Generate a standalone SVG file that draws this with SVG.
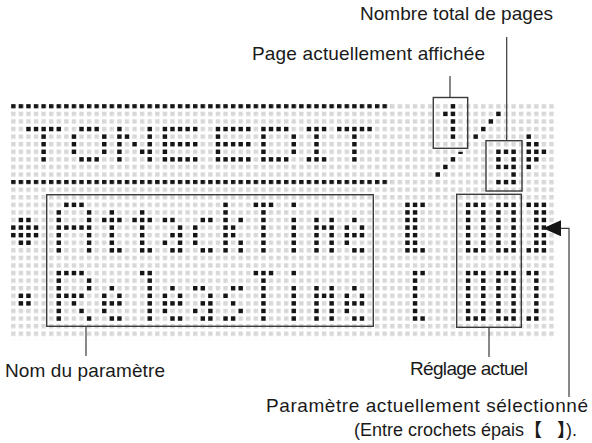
<svg xmlns="http://www.w3.org/2000/svg" xmlns:xlink="http://www.w3.org/1999/xlink" width="592" height="443" viewBox="0 0 592 443">
<style>
.lbl{font-family:"Liberation Sans","Noto Sans CJK JP",Arial,sans-serif;font-size:19px;fill:#1a1a1a}
.cjk{font-family:"Noto Sans CJK JP","Liberation Sans",sans-serif;font-weight:bold}
.box{fill:none;stroke:#3a3a3a;stroke-width:1.4}
.ldr{fill:none;stroke:#3a3a3a;stroke-width:1.2}
.k{fill:#151515}
</style>
<defs>
<pattern id="grid" x="11.1" y="104.1" width="7.58" height="7.58" patternUnits="userSpaceOnUse"><rect width="4.4" height="4.4" fill="#d8d8d8"/></pattern>
<pattern id="kgrid" x="11.1" y="104.1" width="7.58" height="7.58" patternUnits="userSpaceOnUse"><rect width="4.4" height="4.4" fill="#151515"/></pattern>
<marker id="ah" viewBox="0 0 18 16" refX="18" refY="8" markerWidth="18" markerHeight="16" orient="auto" markerUnits="userSpaceOnUse"><path d="M0,0 L18,8 L0,16 z" fill="#151515"/></marker>
<rect id="d" width="0.58" height="0.58"/>
<g id="gA"><use href="#d" x="1" y="0"/><use href="#d" x="2" y="0"/><use href="#d" x="3" y="0"/><use href="#d" x="0" y="1"/><use href="#d" x="4" y="1"/><use href="#d" x="0" y="2"/><use href="#d" x="4" y="2"/><use href="#d" x="0" y="3"/><use href="#d" x="1" y="3"/><use href="#d" x="2" y="3"/><use href="#d" x="3" y="3"/><use href="#d" x="4" y="3"/><use href="#d" x="0" y="4"/><use href="#d" x="4" y="4"/><use href="#d" x="0" y="5"/><use href="#d" x="4" y="5"/><use href="#d" x="0" y="6"/><use href="#d" x="4" y="6"/></g>
<g id="gt"><use href="#d" x="1" y="1"/><use href="#d" x="0" y="2"/><use href="#d" x="1" y="2"/><use href="#d" x="2" y="2"/><use href="#d" x="1" y="3"/><use href="#d" x="1" y="4"/><use href="#d" x="1" y="5"/><use href="#d" x="1" y="6"/><use href="#d" x="2" y="6"/></g>
<g id="ga"><use href="#d" x="0" y="2"/><use href="#d" x="1" y="2"/><use href="#d" x="2" y="3"/><use href="#d" x="1" y="4"/><use href="#d" x="2" y="4"/><use href="#d" x="0" y="5"/><use href="#d" x="2" y="5"/><use href="#d" x="1" y="6"/><use href="#d" x="2" y="6"/></g>
<g id="gc"><use href="#d" x="1" y="2"/><use href="#d" x="2" y="2"/><use href="#d" x="0" y="3"/><use href="#d" x="0" y="4"/><use href="#d" x="0" y="5"/><use href="#d" x="1" y="6"/><use href="#d" x="2" y="6"/></g>
<g id="gk"><use href="#d" x="0" y="0"/><use href="#d" x="0" y="1"/><use href="#d" x="0" y="2"/><use href="#d" x="0" y="3"/><use href="#d" x="0" y="4"/><use href="#d" x="0" y="5"/><use href="#d" x="0" y="6"/><use href="#d" x="2" y="2"/><use href="#d" x="1" y="3"/><use href="#d" x="1" y="4"/><use href="#d" x="2" y="5"/><use href="#d" x="2" y="6"/></g>
<g id="gT"><use href="#d" x="0" y="0"/><use href="#d" x="1" y="0"/><use href="#d" x="2" y="0"/><use href="#d" x="1" y="1"/><use href="#d" x="1" y="2"/><use href="#d" x="1" y="3"/><use href="#d" x="1" y="4"/><use href="#d" x="1" y="5"/><use href="#d" x="1" y="6"/></g>
<g id="gi"><use href="#d" x="0" y="0"/><use href="#d" x="0" y="2"/><use href="#d" x="0" y="3"/><use href="#d" x="0" y="4"/><use href="#d" x="0" y="5"/><use href="#d" x="0" y="6"/></g>
<g id="gm"><use href="#d" x="0" y="2"/><use href="#d" x="2" y="2"/><use href="#d" x="0" y="3"/><use href="#d" x="1" y="3"/><use href="#d" x="2" y="3"/><use href="#d" x="0" y="4"/><use href="#d" x="2" y="4"/><use href="#d" x="0" y="5"/><use href="#d" x="2" y="5"/><use href="#d" x="0" y="6"/><use href="#d" x="2" y="6"/></g>
<g id="ge"><use href="#d" x="1" y="2"/><use href="#d" x="0" y="3"/><use href="#d" x="2" y="3"/><use href="#d" x="0" y="4"/><use href="#d" x="1" y="4"/><use href="#d" x="2" y="4"/><use href="#d" x="0" y="5"/><use href="#d" x="1" y="6"/><use href="#d" x="2" y="6"/></g>
<g id="gR"><use href="#d" x="0" y="0"/><use href="#d" x="1" y="0"/><use href="#d" x="2" y="0"/><use href="#d" x="3" y="0"/><use href="#d" x="0" y="1"/><use href="#d" x="4" y="1"/><use href="#d" x="0" y="2"/><use href="#d" x="4" y="2"/><use href="#d" x="0" y="3"/><use href="#d" x="1" y="3"/><use href="#d" x="2" y="3"/><use href="#d" x="3" y="3"/><use href="#d" x="0" y="4"/><use href="#d" x="2" y="4"/><use href="#d" x="0" y="5"/><use href="#d" x="3" y="5"/><use href="#d" x="0" y="6"/><use href="#d" x="4" y="6"/></g>
<g id="gl"><use href="#d" x="0" y="0"/><use href="#d" x="1" y="0"/><use href="#d" x="1" y="1"/><use href="#d" x="1" y="2"/><use href="#d" x="1" y="3"/><use href="#d" x="1" y="4"/><use href="#d" x="1" y="5"/><use href="#d" x="1" y="6"/></g>
<g id="gs"><use href="#d" x="1" y="2"/><use href="#d" x="2" y="2"/><use href="#d" x="0" y="3"/><use href="#d" x="1" y="4"/><use href="#d" x="2" y="5"/><use href="#d" x="0" y="6"/><use href="#d" x="1" y="6"/></g>
<g id="g0"><use href="#d" x="0" y="0"/><use href="#d" x="1" y="0"/><use href="#d" x="2" y="0"/><use href="#d" x="0" y="1"/><use href="#d" x="2" y="1"/><use href="#d" x="0" y="2"/><use href="#d" x="2" y="2"/><use href="#d" x="0" y="3"/><use href="#d" x="2" y="3"/><use href="#d" x="0" y="4"/><use href="#d" x="2" y="4"/><use href="#d" x="0" y="5"/><use href="#d" x="2" y="5"/><use href="#d" x="0" y="6"/><use href="#d" x="1" y="6"/><use href="#d" x="2" y="6"/></g>
<g id="gLB"><use href="#d" x="0" y="0"/><use href="#d" x="1" y="0"/><use href="#d" x="2" y="0"/><use href="#d" x="0" y="1"/><use href="#d" x="1" y="1"/><use href="#d" x="0" y="2"/><use href="#d" x="1" y="2"/><use href="#d" x="0" y="3"/><use href="#d" x="1" y="3"/><use href="#d" x="0" y="4"/><use href="#d" x="1" y="4"/><use href="#d" x="0" y="5"/><use href="#d" x="1" y="5"/><use href="#d" x="0" y="6"/><use href="#d" x="1" y="6"/><use href="#d" x="2" y="6"/></g>
<g id="gRB"><use href="#d" x="0" y="0"/><use href="#d" x="1" y="0"/><use href="#d" x="2" y="0"/><use href="#d" x="1" y="1"/><use href="#d" x="2" y="1"/><use href="#d" x="1" y="2"/><use href="#d" x="2" y="2"/><use href="#d" x="1" y="3"/><use href="#d" x="2" y="3"/><use href="#d" x="1" y="4"/><use href="#d" x="2" y="4"/><use href="#d" x="1" y="5"/><use href="#d" x="2" y="5"/><use href="#d" x="0" y="6"/><use href="#d" x="1" y="6"/><use href="#d" x="2" y="6"/></g>
<g id="glb"><use href="#d" x="0" y="0"/><use href="#d" x="1" y="0"/><use href="#d" x="0" y="1"/><use href="#d" x="0" y="2"/><use href="#d" x="0" y="3"/><use href="#d" x="0" y="4"/><use href="#d" x="0" y="5"/><use href="#d" x="0" y="6"/><use href="#d" x="1" y="6"/></g>
<g id="grb"><use href="#d" x="0" y="0"/><use href="#d" x="1" y="0"/><use href="#d" x="1" y="1"/><use href="#d" x="1" y="2"/><use href="#d" x="1" y="3"/><use href="#d" x="1" y="4"/><use href="#d" x="1" y="5"/><use href="#d" x="0" y="6"/><use href="#d" x="1" y="6"/></g>
<g id="tT"><use href="#d" x="0" y="0"/><use href="#d" x="1" y="0"/><use href="#d" x="2" y="0"/><use href="#d" x="3" y="0"/><use href="#d" x="4" y="0"/><use href="#d" x="2" y="1"/><use href="#d" x="2" y="2"/><use href="#d" x="2" y="3"/><use href="#d" x="2" y="4"/></g>
<g id="tO"><use href="#d" x="1" y="0"/><use href="#d" x="2" y="0"/><use href="#d" x="3" y="0"/><use href="#d" x="0" y="1"/><use href="#d" x="4" y="1"/><use href="#d" x="0" y="2"/><use href="#d" x="4" y="2"/><use href="#d" x="0" y="3"/><use href="#d" x="4" y="3"/><use href="#d" x="1" y="4"/><use href="#d" x="2" y="4"/><use href="#d" x="3" y="4"/></g>
<g id="tN"><use href="#d" x="0" y="0"/><use href="#d" x="0" y="1"/><use href="#d" x="0" y="2"/><use href="#d" x="0" y="3"/><use href="#d" x="0" y="4"/><use href="#d" x="4" y="0"/><use href="#d" x="4" y="1"/><use href="#d" x="4" y="2"/><use href="#d" x="4" y="3"/><use href="#d" x="4" y="4"/><use href="#d" x="1" y="1"/><use href="#d" x="2" y="2"/><use href="#d" x="3" y="3"/></g>
<g id="tE"><use href="#d" x="0" y="0"/><use href="#d" x="1" y="0"/><use href="#d" x="2" y="0"/><use href="#d" x="3" y="0"/><use href="#d" x="4" y="0"/><use href="#d" x="0" y="1"/><use href="#d" x="0" y="2"/><use href="#d" x="1" y="2"/><use href="#d" x="2" y="2"/><use href="#d" x="3" y="2"/><use href="#d" x="4" y="2"/><use href="#d" x="0" y="3"/><use href="#d" x="0" y="4"/><use href="#d" x="1" y="4"/><use href="#d" x="2" y="4"/><use href="#d" x="3" y="4"/><use href="#d" x="4" y="4"/></g>
<g id="tD"><use href="#d" x="0" y="0"/><use href="#d" x="1" y="0"/><use href="#d" x="2" y="0"/><use href="#d" x="3" y="0"/><use href="#d" x="0" y="1"/><use href="#d" x="4" y="1"/><use href="#d" x="0" y="2"/><use href="#d" x="4" y="2"/><use href="#d" x="0" y="3"/><use href="#d" x="4" y="3"/><use href="#d" x="0" y="4"/><use href="#d" x="1" y="4"/><use href="#d" x="2" y="4"/><use href="#d" x="3" y="4"/></g>
<g id="tI"><use href="#d" x="0" y="0"/><use href="#d" x="1" y="0"/><use href="#d" x="2" y="0"/><use href="#d" x="1" y="1"/><use href="#d" x="1" y="2"/><use href="#d" x="1" y="3"/><use href="#d" x="0" y="4"/><use href="#d" x="1" y="4"/><use href="#d" x="2" y="4"/></g>
</defs>

<g id="lcd-grid">
<rect x="11.1" y="104.1" width="545.76" height="234.98" fill="url(#grid)"/>
<rect x="11.1" y="104.1" width="379" height="4.4" fill="url(#kgrid)"/>
<rect x="11.1" y="179.9" width="379" height="4.4" fill="url(#kgrid)"/>
</g>

<g class="k" transform="translate(11.1 104.1) scale(7.58)">
<g id="lcd-title" aria-label="TONE EDIT">
<use href="#tT" x="2" y="3"/><use href="#tO" x="8" y="3"/><use href="#tN" x="14" y="3"/><use href="#tE" x="20" y="3"/>
<use href="#tE" x="27" y="3"/><use href="#tD" x="33" y="3"/><use href="#tI" x="39" y="3"/><use href="#tT" x="43" y="3"/>
</g>
<g id="lcd-page" aria-label="1/9">
<use href="#d" x="58" y="0"/><use href="#d" x="58" y="1"/><use href="#d" x="58" y="2"/><use href="#d" x="58" y="3"/><use href="#d" x="58" y="4"/><use href="#d" x="57" y="1"/>
<use href="#d" x="64" y="1"/><use href="#d" x="63" y="2"/><use href="#d" x="62" y="3"/><use href="#d" x="61" y="4"/><rect x="59" y="6.3" width="0.58" height="0.28"/><use href="#d" x="58" y="7"/><use href="#d" x="57" y="8"/><use href="#d" x="56" y="9"/>
<use href="#d" x="64" y="6"/><use href="#d" x="65" y="6"/><use href="#d" x="66" y="6"/><use href="#d" x="64" y="7"/><use href="#d" x="66" y="7"/><use href="#d" x="64" y="8"/><use href="#d" x="65" y="8"/><use href="#d" x="66" y="8"/><use href="#d" x="66" y="9"/><use href="#d" x="64" y="10"/><use href="#d" x="65" y="10"/><use href="#d" x="66" y="10"/>
<use href="#d" x="68" y="4"/><use href="#d" x="68" y="5"/><use href="#d" x="69" y="5"/><use href="#d" x="68" y="6"/><use href="#d" x="69" y="6"/><use href="#d" x="70" y="6"/><use href="#d" x="68" y="7"/><use href="#d" x="69" y="7"/><use href="#d" x="68" y="8"/>
</g>
<g id="lcd-row1" aria-label="AttackTime [00]">
<use href="#d" x="1" y="15"/><use href="#d" x="2" y="15"/><use href="#d" x="0" y="16"/><use href="#d" x="1" y="16"/><use href="#d" x="2" y="16"/><use href="#d" x="3" y="16"/><use href="#d" x="0" y="17"/><use href="#d" x="1" y="17"/><use href="#d" x="2" y="17"/><use href="#d" x="3" y="17"/><use href="#d" x="1" y="18"/><use href="#d" x="2" y="18"/>
<use href="#gA" x="6" y="13"/><use href="#gt" x="12" y="13"/><use href="#gt" x="16" y="13"/><use href="#ga" x="20" y="13"/><use href="#gc" x="24" y="13"/><use href="#gk" x="28" y="13"/><use href="#gT" x="32" y="13"/><use href="#gi" x="37" y="13"/><use href="#gm" x="40" y="13"/><use href="#ge" x="44" y="13"/>
<use href="#gLB" x="52" y="13"/><use href="#g0" x="60" y="13"/><use href="#g0" x="64" y="13"/><use href="#gRB" x="68" y="13"/>
</g>
<g id="lcd-row2" aria-label="ReleasTime [00]">
<use href="#d" x="1" y="25"/><use href="#d" x="2" y="25"/><use href="#d" x="1" y="26"/><use href="#d" x="2" y="26"/>
<use href="#gR" x="6" y="22"/><use href="#ge" x="12" y="22"/><use href="#gl" x="17" y="22"/><use href="#ge" x="20" y="22"/><use href="#ga" x="24" y="22"/><use href="#gs" x="28" y="22"/><use href="#gT" x="32" y="22"/><use href="#gi" x="37" y="22"/><use href="#gm" x="40" y="22"/><use href="#ge" x="44" y="22"/>
<use href="#glb" x="53" y="22"/><use href="#g0" x="60" y="22"/><use href="#g0" x="64" y="22"/><use href="#grb" x="68" y="22"/>
</g>
</g>

<g id="callout-page"><rect class="box" x="433.3" y="97.5" width="34.4" height="50.8"/></g>
<g id="callout-total"><rect class="box" x="486" y="140.7" width="36" height="50.3"/></g>
<g id="callout-param"><rect class="box" x="46.7" y="194.7" width="326.6" height="131.6"/></g>
<g id="callout-value"><rect class="box" x="456.7" y="194.3" width="64.6" height="133"/></g>

<g id="connectors">
<line class="ldr" x1="450" y1="76" x2="450" y2="97.5"/>
<line class="ldr" x1="506.7" y1="37" x2="506.7" y2="140.7"/>
<line class="ldr" x1="86" y1="326.3" x2="86" y2="356"/>
<line class="ldr" x1="489" y1="327.3" x2="489" y2="357"/>
<path class="ldr" d="M569,397 V228.3 H543" marker-end="url(#ah)"/>
</g>

<g id="labels">
<text class="lbl" x="360" y="20" textLength="193">Nombre total de pages</text>
<text class="lbl" x="252" y="60" textLength="233">Page actuellement affichée</text>
<text class="lbl" x="5" y="377" textLength="160">Nom du paramètre</text>
<text class="lbl" x="410" y="375" textLength="118">Réglage actuel</text>
<text class="lbl" x="588" y="412" text-anchor="end" textLength="322">Paramètre actuellement sélectionné</text>
<text class="lbl" x="354" y="436" style="font-size:18px">(Entre crochets épais<tspan class="cjk">【</tspan> <tspan class="cjk" dx="10">】</tspan>).</text>
</g>
</svg>
